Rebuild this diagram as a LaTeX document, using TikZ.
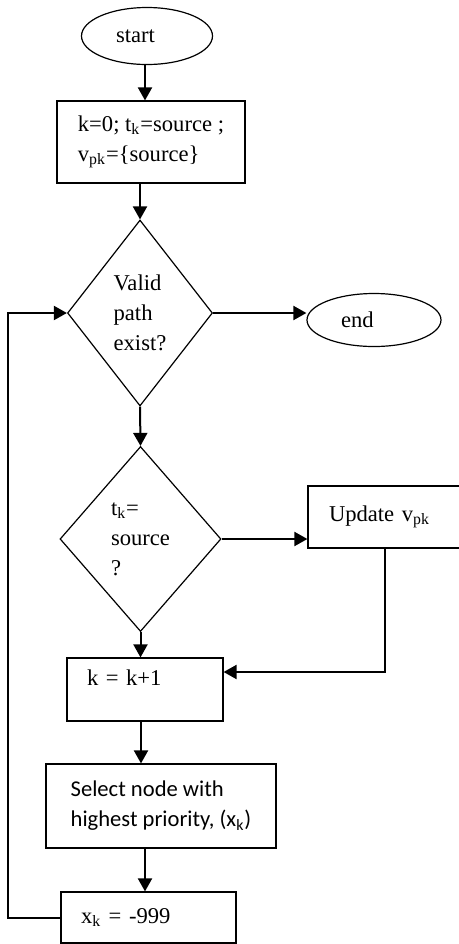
\documentclass[tikz,border=0pt]{standalone}
\usepackage{fontspec}
\setmainfont{Liberation Serif}
\newfontfamily\calibri{Carlito}
\usetikzlibrary{shapes.geometric,arrows.meta}

\begin{document}
\begin{tikzpicture}[x=0.5pt, y=-0.5pt,
	every node/.style={font=\fontsize{11.3}{15}\selectfont, align=left},
	term/.style={draw, ellipse, line width=0.6pt, inner sep=0pt},
	proc/.style={draw, rectangle, line width=0.6pt, inner sep=0pt},
	decide/.style={draw, diamond, line width=0.6pt, inner sep=0pt},
	flow/.style={line width=1pt, -{Triangle[length=6.5pt, width=7pt]}}]
	\useasboundingbox (0,0) rectangle (459,944);
	% shapes
	\node[term, minimum width=65.5pt, minimum height=28.5pt, text width=31pt] (start) at (147,36) {start};
	\node[proc, minimum width=94pt, minimum height=41pt] (init) at (151,142) {k=0; t\textsubscript{k}=source ;\\v\textsubscript{pk}=\{source\}};
	\node[decide, minimum width=72.5pt, minimum height=93pt] (valid) at (140,313) {Valid\\path\\exist?};
	\node[term, minimum width=67pt, minimum height=26.5pt, text width=33pt] (end) at (374,320) {end};
	\node[decide, minimum width=80.5pt, minimum height=92.5pt] (issrc) at (140.5,539) {t\textsubscript{k}=\\source\\?};
	\node[proc, minimum width=77pt, minimum height=31pt, inner xsep=10.5pt, text width=56pt, text height=8pt, text depth=4pt] (update) at (385,517) {Update v\textsubscript{pk}};
	\node[proc, minimum width=78pt, minimum height=31.5pt, inner xsep=10pt, text width=58pt, text height=8pt, text depth=11.6pt] (inc) at (145,689.5) {k = k+1};
	\node[proc, minimum width=115pt, minimum height=42pt] (select) at (161,806) {\calibri Select node with\\\calibri highest priority, (x\textsubscript{k})};
	\node[proc, minimum width=87.5pt, minimum height=25.5pt, inner xsep=10pt, text width=67.5pt] (reset) at (148.5,917.5) {x\textsubscript{k} = -999};
	\coordinate (back) at (8,600);
	% connectors
	\draw[flow] (start.south -| 145,0) -- (init.north -| 145,0);
	\draw[flow] (init.south -| valid.north) -- (valid.north);
	\draw[flow] (valid.east) -- (valid.east -| end.west);
	\draw[flow] (valid.south) -- (issrc.north);
	\draw[flow] (issrc.east) -- (issrc.east -| update.west);
	\draw[flow] (update.south) |- ([yshift=8.75pt]inc.east);
	\draw[flow] (issrc.south) -- (inc.north -| issrc.south);
	\draw[flow] (inc.south -| 141,0) -- (select.north -| 141,0);
	\draw[flow] (select.south -| 145,0) -- (reset.north -| 145,0);
	\draw[flow] (reset.west) -| (back) |- (valid.west);
\end{tikzpicture}
\end{document}
